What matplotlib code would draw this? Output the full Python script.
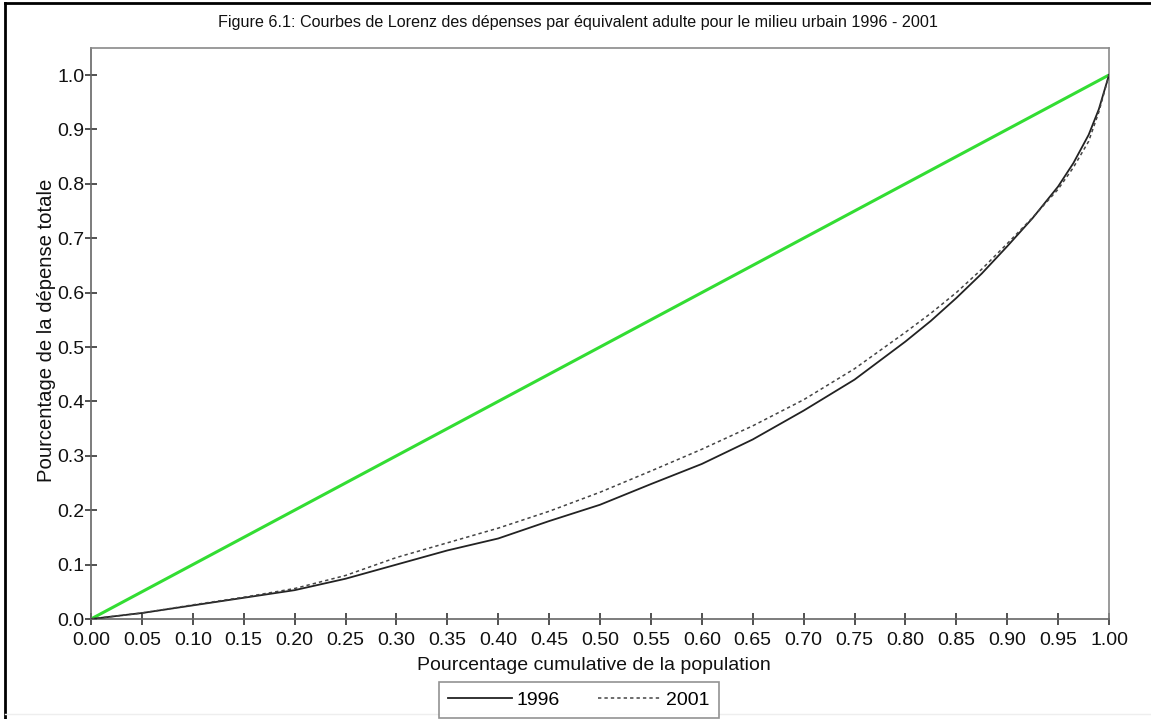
import matplotlib
matplotlib.use("Agg")
import matplotlib.pyplot as plt
from matplotlib.lines import Line2D
import numpy as np

# Data
pop_share = [0.00, 0.05, 0.10, 0.15, 0.20, 0.25, 0.30, 0.35, 0.40, 0.45, 0.50,
             0.55, 0.60, 0.65, 0.70, 0.75, 0.80, 0.825, 0.85, 0.875, 0.90, 0.925,
             0.95, 0.965, 0.98, 0.99, 1.00]
lorenz_1996 = [0.000, 0.011, 0.025, 0.039, 0.053, 0.074, 0.100, 0.126, 0.148, 0.180, 0.210,
               0.248, 0.285, 0.330, 0.383, 0.440, 0.510, 0.548, 0.590, 0.635, 0.685, 0.737,
               0.795, 0.838, 0.890, 0.937, 1.000]
lorenz_2001 = [0.000, 0.011, 0.026, 0.040, 0.056, 0.080, 0.113, 0.140, 0.167, 0.198, 0.233,
               0.272, 0.312, 0.355, 0.403, 0.460, 0.527, 0.562, 0.600, 0.643, 0.690, 0.738,
               0.790, 0.830, 0.878, 0.932, 1.000]
equality = [0.0, 1.0]

x_ticks = [0.00, 0.05, 0.10, 0.15, 0.20, 0.25, 0.30, 0.35, 0.40, 0.45, 0.50,
           0.55, 0.60, 0.65, 0.70, 0.75, 0.80, 0.85, 0.90, 0.95, 1.00]
y_ticks = [0.0, 0.1, 0.2, 0.3, 0.4, 0.5, 0.6, 0.7, 0.8, 0.9, 1.0]

title = "Figure 6.1: Courbes de Lorenz des dépenses par équivalent adulte pour le milieu urbain 1996 - 2001"
xlabel = "Pourcentage cumulative de la population"
ylabel = "Pourcentage de la dépense totale"
series_labels = ["1996", "2001"]

plt.rcParams['font.family'] = ['Liberation Sans', 'DejaVu Sans']

W, H = 1151, 719
fig = plt.figure(figsize=(W / 100, H / 100), dpi=100)
fig.patch.set_facecolor('white')

# axes placement in pixels
ax_l, ax_r, ax_t, ax_b = 91, 1109, 48, 619
ax = fig.add_axes([ax_l / W, 1 - ax_b / H, (ax_r - ax_l) / W, (ax_b - ax_t) / H])

ax.plot(equality, equality, color='#33dd33', lw=2.2, zorder=2)
ax.plot(pop_share, lorenz_1996, color='#222222', lw=1.3, zorder=3)
ax.plot(pop_share, lorenz_2001, color='#444444', lw=1.1, dashes=(2.2, 2.0), zorder=3)

y_top = (619 - 48) / 544.0
ax.set_xlim(0, 1.0)
ax.set_ylim(0, y_top)
ax.set_xticks(x_ticks)
ax.set_xticklabels([f"{v:.2f}" for v in x_ticks])
ax.set_yticks(y_ticks)
ax.set_yticklabels([f"{v:.1f}" for v in y_ticks])
ax.tick_params(axis='both', direction='inout', length=9, width=1.1, color='#222222',
               labelsize=14, labelcolor='#111111')
ax.tick_params(axis='x', pad=5)
ax.tick_params(axis='y', pad=0)

for side in ['top', 'right']:
    ax.spines[side].set_color('#8a8a8a')
    ax.spines[side].set_linewidth(1.2)
for side in ['left', 'bottom']:
    ax.spines[side].set_color('#666666')
    ax.spines[side].set_linewidth(1.2)

fig.text(578 / W, 1 - 22 / H, title, ha='center', va='center', fontsize=11.6, color='#111111')
fig.text(594 / W, 1 - 665 / H, xlabel, ha='center', va='center', fontsize=14, color='#111111')
fig.text(47 / W, 1 - 330 / H, ylabel, ha='center', va='center', rotation=90, fontsize=14.6,
         color='#111111')

handles = [Line2D([], [], color='#222222', lw=1.3),
           Line2D([], [], color='#444444', lw=1.1, dashes=(2.2, 2.0))]
leg = fig.legend(handles, series_labels, loc='center', bbox_to_anchor=(579 / W, 1 - 700 / H),
                 ncol=2, fontsize=14, handlelength=3.3, handletextpad=0.2,
                 columnspacing=2.0, frameon=True, fancybox=False, borderpad=0.45,
                 borderaxespad=0)
leg.get_frame().set_edgecolor('#777777')
leg.get_frame().set_linewidth(1.2)

# figure border: black on left/top, light on right/bottom
fig.add_artist(Line2D([5 / W, 5 / W], [0, 1 - 3 / H], transform=fig.transFigure, color='black', lw=2))
fig.add_artist(Line2D([5 / W, 1], [1 - 3 / H, 1 - 3 / H], transform=fig.transFigure, color='black', lw=2))
fig.add_artist(Line2D([5 / W, 1], [1 - 714 / H, 1 - 714 / H], transform=fig.transFigure, color='#eeeeee', lw=1))

fig.savefig('out.png', dpi=100, facecolor='white')
